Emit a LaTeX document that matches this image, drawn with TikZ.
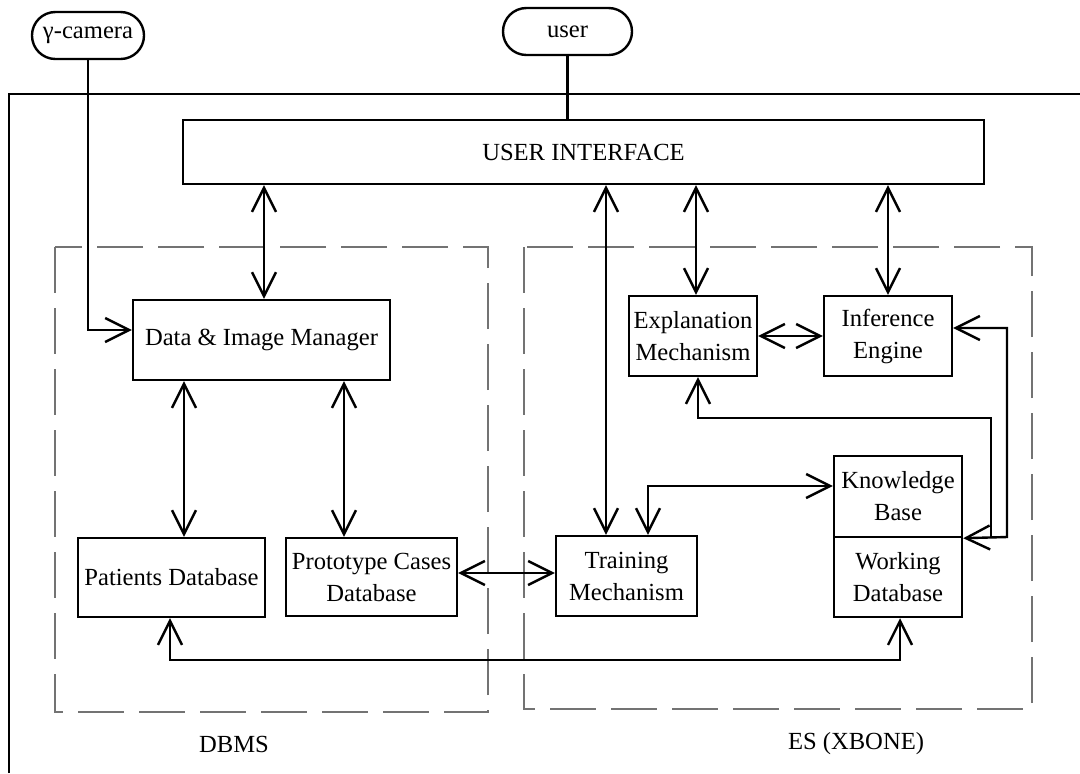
\documentclass[tikz,border=0pt]{standalone}
\usepackage{fontspec}
\setmainfont{Liberation Serif}
\usetikzlibrary{arrows.meta}
\begin{document}
\begin{tikzpicture}[x=0.5pt,y=-0.5pt,
  font=\fontsize{12.3}{16}\selectfont,
  ln/.style={line width=1.2pt},
  box/.style={draw,line width=1.2pt,inner sep=0pt,align=center},
  pill/.style={draw,line width=1.2pt,rounded corners=11.7pt,inner sep=0pt,align=center},
  sz/.style n args={2}{minimum width=#1,minimum height=#2},
  grp/.style={draw=black!55,line width=0.6pt,dash pattern=on 23pt off 7.5pt},
  arr/.style={ln,{Straight Barb[length=12pt,width=12pt]}-{Straight Barb[length=12pt,width=12pt]}},
  sarr/.style={ln,-{Straight Barb[length=12pt,width=12pt]}},
  rarr/.style={ln,{Straight Barb[length=12pt,width=12pt]}-}]
\useasboundingbox (0,0) rectangle (1080,773);
% outer frame
\draw[ln] (9,773) -- (9,94) -- (1080,94);
% groups
\draw[grp] (55,247) rectangle (488,712);
\draw[grp] (524,247) rectangle (1032,709);
\node (dbmsl) at (234,744) {DBMS};
\node (esl) at (856,744) {ES (XBONE)};
% terminals
\node[pill,sz={56pt}{23.5pt}] (cam) at (88,35.5) {γ-camera};
\node[pill,sz={64.5pt}{23.5pt}] (user) at (567.5,31.5) {user};
% boxes
\node[box,sz={400.5pt}{32pt}] (ui) at (583.5,152) {USER INTERFACE};
\node[box,sz={128.5pt}{40pt}] (dim) at (261.5,340) {Data \& Image Manager};
\node[box,sz={93.5pt}{39.5pt}] (pdb) at (171.5,577.5) {Patients Database};
\node[box,sz={85.5pt}{39pt}] (pcd) at (371.5,577) {Prototype Cases\\Database};
\node[box,sz={70.5pt}{40pt}] (tm) at (626.5,576) {Training\\Mechanism};
\node[box,sz={64pt}{40pt}] (em) at (693,336) {Explanation\\Mechanism};
\node[box,sz={64pt}{40pt}] (ie) at (888,336) {Inference\\Engine};
\node[box,sz={64pt}{40.5pt}] (kb) at (898,496.5) {Knowledge\\Base};
\node[box,sz={64pt}{40pt}] (wd) at (898,577) {Working\\Database};
% helper coordinates
\coordinate (xa) at (264,0);
\coordinate (xb) at (606,0);
\coordinate (xc) at (696,0);
\coordinate (xd) at (184,0);
\coordinate (xe) at (344,0);
\coordinate (xf) at (648,0);
\coordinate (xg) at (170,0);
\coordinate (xh) at (900,0);
\coordinate (xi) at (698,0);
\coordinate (ya) at (0,330);
\coordinate (yb) at (0,573);
\coordinate (yc) at (0,486);
\coordinate (yd) at (0,660);
\coordinate (ye) at (0,328);
\coordinate (yf) at (0,418);
\coordinate (cr) at (1007,537);
\coordinate (cq) at (991,537);
% connectors
\draw[ln] (user.south) -- (user.south |- ui.north);
\draw[sarr] (cam.south) -- (cam.south |- ya) -- (dim.west |- ya);
\draw[arr] (xa |- ui.south) -- (xa |- dim.north);
\draw[arr] (xb |- ui.south) -- (xb |- tm.north);
\draw[arr] (xc |- ui.south) -- (xc |- em.north);
\draw[arr] (ie.north |- ui.south) -- (ie.north);
\draw[arr] (em.east) -- (ie.west);
\draw[arr] (xd |- dim.south) -- (xd |- pdb.north);
\draw[arr] (xe |- dim.south) -- (xe |- pcd.north);
\draw[arr] (pcd.east |- yb) -- (tm.west |- yb);
\draw[arr] (xf |- tm.north) -- (xf |- yc) -- (kb.west |- yc);
\draw[arr] (xg |- pdb.south) -- (xg |- yd) -- (xh |- yd) -- (xh |- wd.south);
\draw[arr] (kb.south east) -- (cr) -- (cr |- ye) -- (ie.east |- ye);
\draw[rarr] (xi |- em.south) -- (xi |- yf) -- (cq |- yf) -- (cq);
\end{tikzpicture}
\end{document}
